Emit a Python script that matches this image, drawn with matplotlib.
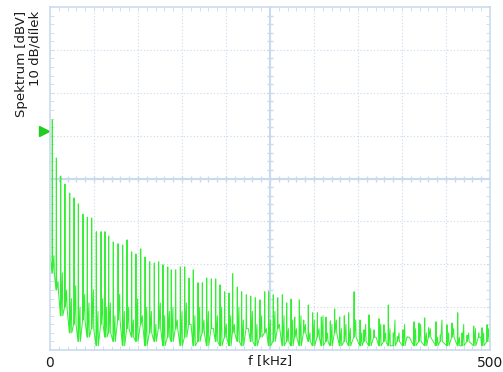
import numpy as np
import matplotlib.pyplot as plt

# spectrum: harmonic peaks (kHz, dBV), valley and noise levels after each peak
peak_khz = [2.6, 7.2, 12.2, 17.0, 22.4, 27.3, 32.2, 37.5, 42.4, 47.4, 52.6, 58.0, 62.5,
            66.7, 71.9, 77.3, 82.6, 87.5, 92.8, 97.7, 103.1, 108.0, 113.3, 118.5, 123.5, 128.4, 133.8,
            137.8, 142.8, 148.1, 153.1, 158.0, 162.8, 168.2, 173.1, 178.1, 183.3, 188.3, 193.2, 198.5,
            203.4, 207.6, 212.8, 217.8, 223.1, 228.1, 233.3, 238.6, 244.0, 248.5, 253.7, 258.8, 264.0, 269.0,
            273.9, 278.1, 283.3, 288.3, 293.5, 298.5, 303.8, 308.3, 313.6, 318.5, 323.5, 329.2, 334.4,
            339.4, 345.5, 352.3, 356.8, 362.5, 368.2, 373.9, 379.5, 384.4, 390.1, 394.7, 401.1, 406.0, 413.6,
            419.3, 425.8, 430.3, 438.6, 443.5, 451.1, 456.8, 463.3, 468.2, 473.9, 481.5, 487.2, 490.9, 496.6]
peak_db = [-26.3, -35.2, -39.4, -41.3, -43.4, -44.5, -45.9, -48.3, -49.0, -49.2, -52.4, -52.4, -52.4,
           -53.4, -54.8, -55.2, -55.5, -54.3, -57.1, -57.6, -56.4, -58.3, -59.4, -59.7, -59.4, -60.1, -60.6,
           -61.3, -61.3, -60.6, -60.6, -63.2, -61.3, -64.3, -64.3, -63.2, -63.4, -63.4, -64.8, -66.4,
           -66.7, -62.2, -65.3, -66.4, -67.1, -67.4, -67.8, -68.3, -66.4, -66.4, -67.1, -67.8, -67.1, -69.0,
           -68.1, -72.3, -68.3, -73.0, -69.5, -71.3, -71.3, -72.3, -72.3, -73.2, -70.4, -72.3, -72.0,
           -71.3, -66.4, -73.0, -75.3, -71.8, -75.3, -72.7, -74.1, -69.5, -76.0, -76.9, -75.3, -76.9, -73.4,
           -73.7, -72.5, -74.8, -73.4, -76.5, -74.1, -73.7, -71.3, -76.0, -76.5, -74.4, -76.0, -74.8, -74.1]
valley_db = [-62, -66, -72, -70, -76, -74, -78, -73, -77, -75, -79, -74, -77,
             -76, -78, -73, -79, -75, -77, -78, -74, -79, -76, -78, -75, -79, -77,
             -78, -75, -79, -77, -74, -79, -78, -76, -79, -75, -78, -79, -77,
             -79, -76, -78, -79, -75, -78, -79, -77, -76, -79, -78, -75, -79, -78,
             -79, -77, -79, -76, -78, -79, -77, -79, -78, -79, -76, -79, -78,
             -79, -77, -79, -78, -79, -77, -79, -78, -79, -79, -78, -79, -77, -79,
             -78, -79, -77, -79, -78, -79, -77, -79, -79, -78, -79, -77, -79, -78]
noise_db = [-58, -64, -62, -66, -68, -65, -70, -67, -69, -66, -71, -68, -70,
            -69, -72, -67, -71, -70, -73, -68, -72, -70, -71, -74, -69, -72, -71,
            -70, -73, -71, -69, -74, -72, -70, -73, -71, -75, -72, -70, -74,
            -72, -74, -70, -73, -75, -71, -74, -72, -75, -73, -71, -74, -72, -75,
            -73, -75, -72, -74, -76, -73, -75, -72, -76, -74, -73, -75, -74,
            -75, -73, -76, -74, -75, -77, -74, -76, -75, -73, -76, -74, -77, -75,
            -74, -76, -75, -77, -73, -76, -75, -77, -74, -76, -75, -77, -76, -75]
start_db = -58
marker_db = -28.9

# build the trace: spike up to each peak, back down, then a small noise bump
x = [0.0]
y = [start_db]
for f, p, v, n in zip(peak_khz, peak_db, valley_db, noise_db):
    x += [f - 0.4, f, f + 0.4, f + 1.9, f + 2.3]
    y += [v, p, v, n, v]

grid_c = '#c9daee'
txt_c = '#1a1a1a'
fig = plt.figure(figsize=(5.03, 3.72), dpi=100)
ax = fig.add_axes([0.0994, 0.0591, 0.8748, 0.922])

ax.plot(x, y, color='#33ee33', lw=0.7)

ax.set_xlim(0, 500)
ax.set_ylim(-80, 0)

# grid 10 x 8 divisions, dotted, centre lines solid
for gx in np.arange(50, 500, 50):
    ax.axvline(gx, color=grid_c, lw=0.8, ls=(0, (1, 2)), zorder=0)
for gy in np.arange(-70, 0, 10):
    ax.axhline(gy, color=grid_c, lw=0.8, ls=(0, (1, 2)), zorder=0)
ax.axvline(250, color=grid_c, lw=1.5, zorder=0)
ax.axhline(-40, color=grid_c, lw=1.5, zorder=0)
ax.plot(np.arange(10, 500, 10), np.full(49, -40), '|', color=grid_c, ms=4, zorder=0)
ax.plot(np.full(39, 250), np.arange(-78, 0, 2), '_', color=grid_c, ms=4, zorder=0)

for s in ax.spines.values():
    s.set_color(grid_c)
    s.set_linewidth(1.2)

ax.set_xticks([0, 500])
ax.set_xticklabels(['0', '500'])
ax.set_xticks(np.arange(10, 500, 10), minor=True)
ax.set_yticks([])
ax.set_yticks(np.arange(-78, 0, 2), minor=True)
ax.tick_params(axis='x', which='major', length=0, labelsize=10, pad=4, colors=txt_c)
ax.tick_params(which='minor', direction='in', length=3, color=grid_c, top=True, right=True)
ax.text(0.5, -0.012, 'f [kHz]', transform=ax.transAxes, ha='center', va='top',
        fontsize=9.5, color=txt_c)
ax.text(-0.05, 0.99, 'Spektrum [dBV]\n10 dB/dílek', transform=ax.transAxes, rotation=90,
        ha='center', va='top', multialignment='right', fontsize=9.5, color=txt_c,
        linespacing=1.05)

# reference level marker
ax.plot([-7], [marker_db], marker='>', color='#22cc22', ms=7, clip_on=False)

fig.savefig('out.png', dpi=100)
